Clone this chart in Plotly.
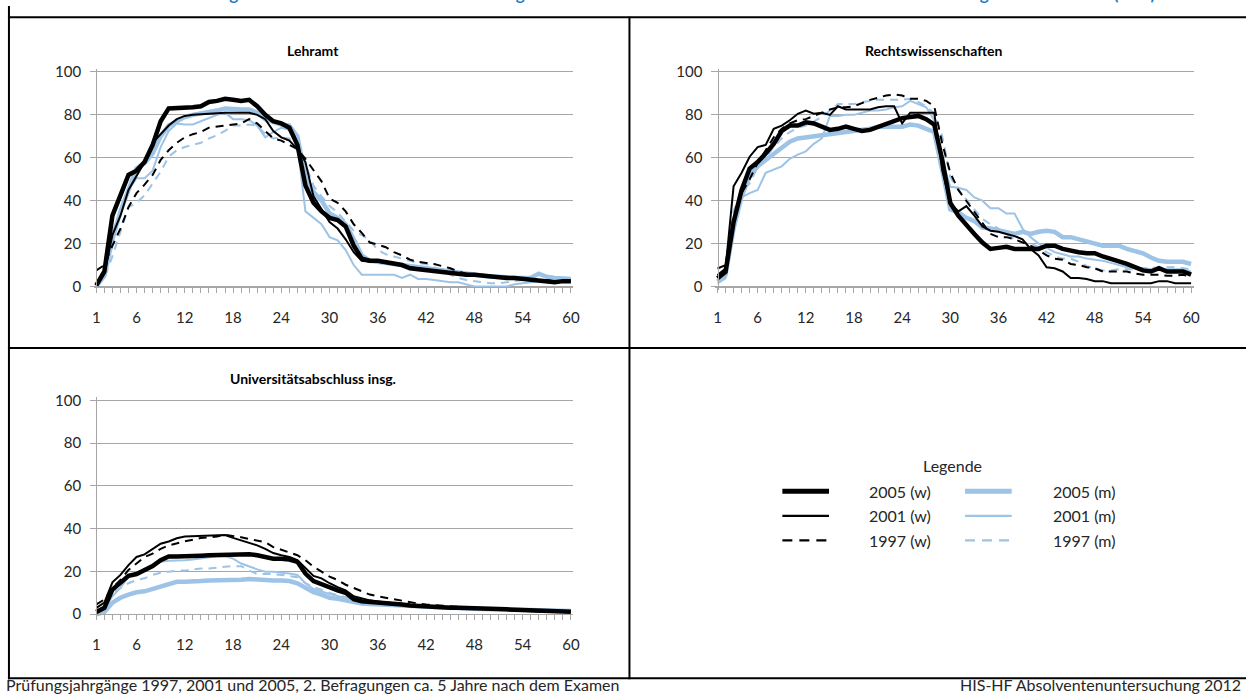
import plotly.graph_objects as go

W, H = 1253, 697
FONT = "Lato"
BLACK = "#000000"
BLUE = "#9DC3E6"
GRID = "#A6A6A6"
TXT = "#262626"

months = list(range(1, 61))
tick_vals = [1, 6, 12, 18, 24, 30, 36, 42, 48, 54, 60]
tick_labels = [str(v) for v in tick_vals]
y_ticks = [0, 20, 40, 60, 80, 100]

panel_titles = ["Lehramt", "Rechtswissenschaften", "Universitätsabschluss insg."]
series_names = ["2005 (w)", "2001 (w)", "1997 (w)", "2005 (m)", "2001 (m)", "1997 (m)"]

# ---- Lehramt ----
L_w05 = [0.5, 7, 33, 42, 52, 54, 58, 66, 77, 83, 83, 83.5, 83.5, 84, 86, 86.5, 87.5, 87, 86.5, 87,
         84, 80, 77, 76, 74, 66, 47, 39, 35, 32, 31, 28, 19, 13, 12, 12, 11.5, 11, 10, 8.5,
         8, 7.5, 7.5, 7, 6.5, 6, 5.5, 5.5, 5, 5, 4.5, 4, 4, 3.5, 3.5, 3, 2, 2, 2.5, 2.5]
L_w01 = [0.5, 6, 24, 33, 45, 51.5, 58, 67, 71, 75, 78, 79.5, 80, 80.3, 80.5, 80.8, 81, 81, 81, 81,
         80, 78, 72.5, 69.5, 68, 64, 58, 42, 36, 30, 27, 22, 16, 12, 11.5, 11.5, 11, 10.5, 10, 9,
         8.5, 8, 7.5, 7, 6.5, 6, 5.5, 5, 5, 4.5, 4.5, 4, 4, 3.5, 3.5, 3, 2.5, 2.5, 2.5, 2.5]
L_w97 = [7.5, 10, 19, 27, 37, 43.5, 47.5, 52, 59, 63.5, 67, 69.5, 71, 72, 74, 74.5, 75, 75.5, 76, 78,
         76, 72.5, 69, 68, 66, 64, 59.5, 54, 49, 41, 39, 35, 29, 25, 20.5, 19.5, 18.3, 16, 14.5, 12.5,
         11.5, 11, 10.5, 9.5, 8.5, 7, 6, 5.5, 5, 5, 4.5, 4.5, 4, 3.5, 3.5, 3, 3, 2.5, 2.5, 2.5]
L_m05 = [0, 5, 22, 35, 45, 55, 57.5, 62, 70, 75, 77, 79, 80, 80.5, 81, 82, 83, 82.5, 82.5, 82.5,
         81, 78, 76.5, 75.5, 75, 70, 51, 44, 40, 34, 32, 29, 22, 14.5, 12, 11.5, 11, 10.5, 10, 9,
         8.5, 8, 7.5, 7, 6.5, 6, 5.5, 5, 5, 4.5, 4.5, 4, 4, 4, 4, 6, 4.5, 4, 4, 3.5]
L_m01 = [0, 5, 25, 35, 45, 50.5, 50.5, 54, 65, 72.5, 76, 75.5, 75.5, 77, 78.5, 80, 81, 78, 78, 77.5,
         75, 69.5, 72, 74, 73, 66, 35, 32, 29, 23, 21.5, 17, 10, 5.5, 5.5, 5.5, 5.5, 5.5, 4, 5.5,
         3.5, 3.5, 3, 2.5, 2, 2, 1, 0, 0, 0, 0, 0, 1, 1.5, 2, 2.5, 2.5, 3, 3, 3]
L_m97 = [0, 4, 14, 25, 37, 39, 42.5, 48, 53.5, 60.5, 63.5, 65, 66, 67, 69, 70.5, 72.5, 75, 75, 75.5,
         75, 71, 69, 69.5, 69, 64, 57, 47, 42, 37.5, 34.5, 30, 26, 24, 21.5, 17, 15, 14, 13, 12,
         11, 10.5, 9, 7.5, 5.5, 4, 3, 2.5, 2, 1.5, 1.5, 2, 2.5, 3, 3, 3, 3, 3, 3, 3]

# ---- Rechtswissenschaften ----
R_w05 = [3.8, 6.9, 30, 45, 55, 58, 62, 66.5, 72.5, 75, 75, 76.5, 76, 74.5, 73, 73.5, 74.5, 73.5, 72.5, 73,
         74.5, 76, 77.5, 78.5, 79, 79.5, 78, 75.5, 59, 39, 33, 28.5, 24.5, 20.5, 17.5, 18, 18.5, 17.5, 17.5, 17.5,
         17.5, 19, 19, 17.5, 16.5, 16, 15.5, 15.5, 14, 13, 12, 10.5, 9, 7.5, 7, 8.5, 7, 7, 7, 5.5]
R_w01 = [5.4, 8.4, 46.7, 53, 60.5, 65, 66, 73.5, 75, 77.5, 80.5, 82, 80.5, 81, 80, 84, 82.5, 82.5, 82.5, 82.5,
         83.5, 84, 84, 76, 81, 81, 81, 81, 54, 39, 35, 37.5, 33, 28, 26, 25.5, 24.5, 23.5, 22, 17.5,
         14.5, 9, 8.5, 7, 4, 4, 3.5, 2.5, 2.5, 1.5, 1.5, 1.5, 1.5, 1.5, 1.5, 2.5, 2.5, 1.5, 1.5, 1.5]
R_w97 = [8.4, 10, 30, 43.5, 50, 57.5, 63.5, 69.5, 73.5, 76, 77.5, 78, 79.5, 81, 82.5, 83.5, 83.5, 84, 85.5, 87,
         88, 89, 89.5, 89, 87.5, 87.5, 86.5, 84, 66.5, 53, 45, 40, 35, 30, 24.5, 23, 23, 22, 20.5, 19,
         17, 14.5, 13, 12.5, 10.5, 10, 9, 8.5, 7, 7, 7, 7, 6, 5.5, 5.5, 5.5, 5, 5, 5.5, 4.5]
R_m05 = [2.3, 5.4, 27, 42, 51.5, 56, 59, 62, 65, 67.5, 69, 69.5, 69.5, 70.5, 71, 71, 72, 72.5, 72.5, 73.5,
         74.5, 74.5, 75, 74.5, 75.5, 75, 73.5, 72, 54, 36, 34.5, 32, 30.5, 27.5, 27, 26, 25.5, 24.5, 25.5, 24.5,
         25.5, 26, 25.5, 23, 23, 22, 21.5, 20, 19, 19, 19, 17.5, 16.5, 15.5, 13.5, 12, 11.5, 11.5, 11.5, 10.5]
R_m01 = [1.5, 3.8, 27, 41.5, 43.5, 45, 53, 54.5, 56, 59.5, 61.5, 63, 66.5, 69, 79.5, 79.5, 80, 80, 81, 82,
         82, 82.5, 83.5, 84, 86.5, 85, 83.5, 77.5, 59, 46.5, 46, 45, 41.5, 40, 36.5, 36.5, 34, 34, 27, 23,
         20, 18, 16, 15, 14, 14, 13, 12.5, 12, 11, 10, 9, 9, 8.5, 8, 8, 8, 8, 8, 7]
R_m97 = [3, 8, 35, 45, 48, 56, 60, 65, 69, 72, 74, 75, 77, 79, 82, 85, 85, 85, 86, 86.5,
         87, 87, 87, 87, 87.5, 86, 84, 80.5, 70, 51, 45, 40.5, 36, 31.5, 29, 27, 24.5, 22, 20.5, 20,
         18.5, 16, 14, 13, 13, 11.5, 9.5, 8.5, 7.5, 7.5, 8, 8, 8, 8.5, 8.5, 9, 9, 9, 8.5, 8]

# ---- Universitätsabschluss insg. ----
U_w05 = [1, 3, 11.5, 14.5, 18, 18.8, 20.4, 22.5, 25.3, 27, 27, 27, 27.3, 27.4, 27.6, 27.7, 28, 28, 27.9, 28,
         27.6, 26.8, 26, 25.9, 25.6, 24.5, 19, 15.5, 14, 12.3, 11.2, 10, 7, 6.1, 5.9, 5.7, 5.4, 5, 4.6, 4.1,
         3.8, 3.5, 3.3, 3, 3, 3, 3, 3, 2.8, 2.6, 2.5, 2.3, 2.2, 2, 1.8, 1.5, 1.4, 1.2, 1.2, 1.2]
U_w01 = [3, 5.4, 14.9, 18.4, 23, 26.8, 28, 30.6, 33, 34, 35.5, 36.3, 36.4, 36.6, 36.7, 36.7, 37, 35.7, 34.5, 33.2,
         32.2, 30.6, 28.6, 27.6, 26.8, 25.3, 21.4, 17.9, 16.8, 14.5, 12.7, 11.2, 8.4, 7.4, 6.5, 6, 5.5, 5, 4.5, 4,
         3.8, 3.5, 3.3, 3, 3, 3, 3, 2.8, 2.6, 2.3, 2.2, 2, 1.8, 1.6, 1.5, 1.3, 1.2, 1.2, 1.2, 1.2]
U_w97 = [4.6, 6.9, 12.3, 16, 20.7, 23.7, 26.8, 28.3, 30.6, 32.2, 33.2, 34.1, 34.8, 35.7, 36, 36.3, 37.2, 36.7, 36, 35.2,
         34.5, 33.7, 31.4, 30.2, 29.1, 27.6, 25.3, 22.2, 19.9, 17.6, 16, 13.8, 12.3, 10.7, 9.2, 8.4, 7.7, 6.9, 6.1, 5.4,
         5, 4.6, 4.3, 3.8, 3.5, 3.3, 3, 2.8, 2.6, 2.5, 2.3, 2.2, 2, 1.8, 1.7, 1.6, 1.5, 1.4, 1.3, 1.2]
U_m05 = [0, 1, 5.4, 7.7, 9.2, 10.3, 10.7, 11.8, 13.3, 14.2, 15.2, 15.2, 15.2, 15.5, 15.8, 15.8, 16.1, 16.1, 16.1, 16.5,
         16.1, 15.8, 15.8, 15.8, 15.5, 14.5, 12.3, 10.3, 9.2, 7.7, 7.2, 6.4, 5.4, 5, 4.8, 4.6, 4.4, 4.2, 4, 3.8,
         3.5, 3.3, 3.1, 3, 2.9, 2.8, 2.7, 2.6, 2.5, 2.4, 2.3, 2.2, 2.1, 2, 1.9, 1.8, 1.7, 1.6, 1.5, 1.5]
U_m01 = [0.5, 2.3, 8.4, 12.3, 17.6, 19.1, 20.7, 22.5, 24.5, 25, 25, 25.3, 25.6, 26, 26.5, 27.1, 27.1, 26, 23.7, 22.2,
         21, 19.9, 19.9, 19.4, 19.1, 18.4, 14.5, 11.8, 10.5, 9.5, 8.5, 7.5, 6, 5.5, 5.2, 5, 4.7, 4.5, 4.2, 4,
         3.7, 3.5, 3.3, 3.1, 3, 2.9, 2.8, 2.7, 2.6, 2.5, 2.4, 2.3, 2.2, 2.1, 2, 1.9, 1.8, 1.7, 1.6, 1.5]
U_m97 = [1.5, 3.5, 10, 12.3, 14.5, 16, 16.8, 18.4, 19.4, 19.9, 20.4, 20.4, 21, 21.4, 21.4, 21.9, 22.2, 22.5, 22.5, 20.4,
         18.8, 18.8, 18.8, 18.4, 17.9, 17.3, 14.5, 12.7, 11.5, 10, 9, 8, 7, 6, 5.5, 5, 4.7, 4.4, 4.1, 3.9,
         3.7, 3.5, 3.3, 3.1, 3, 2.9, 2.8, 2.7, 2.6, 2.5, 2.4, 2.3, 2.2, 2.1, 2, 1.9, 1.8, 1.7, 1.6, 1.5]

panels = [
    {"w05": L_w05, "w01": L_w01, "w97": L_w97, "m05": L_m05, "m01": L_m01, "m97": L_m97},
    {"w05": R_w05, "w01": R_w01, "w97": R_w97, "m05": R_m05, "m01": R_m01, "m97": R_m97},
    {"w05": U_w05, "w01": U_w01, "w97": U_w97, "m05": U_m05, "m01": U_m01, "m97": U_m97},
]

styles = {
    "w05": dict(color=BLACK, width=4.5, dash="solid"),
    "w01": dict(color=BLACK, width=2, dash="solid"),
    "w97": dict(color=BLACK, width=2, dash="8px,6px"),
    "m05": dict(color=BLUE, width=4.5, dash="solid"),
    "m01": dict(color=BLUE, width=2, dash="solid"),
    "m97": dict(color=BLUE, width=2, dash="8px,6px"),
}
draw_order = ["m97", "m01", "m05", "w97", "w01", "w05"]
key_names = dict(zip(["w05", "w01", "w97", "m05", "m01", "m97"], series_names))

def px(x):
    return x / W

def py(y):
    return 1 - y / H

# pixel geometry of plot areas: (x of month 1, x of month 60, y of 0, y of 100)
geo = [(95, 573, 285, 67), (720.7, 1197.7, 285, 67), (95, 573, 618, 400.7)]
XR = [0.7, 60.3]
YR = [-1.5, 101.5]

fig = go.Figure()
layout_axes = {}
for i, (pdata, g) in enumerate(zip(panels, geo)):
    n = "" if i == 0 else str(i + 1)
    x1, x60, y0, y100 = g
    sx = (x60 - x1) / 59.0
    sy = (y0 - y100) / 100.0
    dl = x1 - (1 - XR[0]) * sx
    dr = x60 + (XR[1] - 60) * sx
    db = y0 + (0 - YR[0]) * sy
    dt = y100 - (YR[1] - 100) * sy
    for k in draw_order:
        st = styles[k]
        fig.add_trace(go.Scatter(
            x=months, y=pdata[k], mode="lines", name=key_names[k], showlegend=False,
            line=dict(color=st["color"], width=st["width"], dash=st["dash"]),
            xaxis="x" + n, yaxis="y" + n, hoverinfo="skip"))
    layout_axes["xaxis" + n] = dict(
        domain=[px(dl), px(dr)], range=XR, anchor="free", position=py(y0),
        showgrid=False, zeroline=False, showline=True, linecolor=GRID, linewidth=1.3,
        tickmode="array", tickvals=months,
        ticktext=[str(m) if m in tick_vals else "" for m in months],
        ticks="outside", ticklen=5, tickwidth=1.3, tickcolor=GRID,
        ticklabelstandoff=12,
        tickfont=dict(family=FONT, size=15, color=TXT), fixedrange=True)
    layout_axes["yaxis" + n] = dict(
        domain=[py(db), py(dt)], range=YR, anchor="free", position=px(x1),
        showgrid=True, gridcolor=GRID, gridwidth=1.3, zeroline=False,
        showline=True, linecolor=GRID, linewidth=1.3,
        tickmode="array", tickvals=y_ticks,
        ticks="outside", ticklen=6, tickwidth=1.3, tickcolor=GRID,
        ticklabelstandoff=6,
        tickfont=dict(family=FONT, size=15, color=TXT), fixedrange=True)

annotations = []
title_pos = [(313, 45), (938, 45), (313, 378)]
for t, (tx, ty) in zip(panel_titles, title_pos):
    annotations.append(dict(text="<b>" + t + "</b>", x=px(tx), y=py(ty), xref="paper", yref="paper",
                            xanchor="center", yanchor="middle", showarrow=False,
                            font=dict(family=FONT, size=14, color=BLACK)))

# main title, cut off at the very top as in the source
annotations.append(dict(
    text="<b>Beschäftigte im Referendariat bzw. Vorbereitungsdienst nach Monaten seit dem Examen nach Studienrichtung und Geschlecht (in %)</b>",
    x=px(660), y=py(-13), xref="paper", yref="paper", xanchor="center", yanchor="middle",
    showarrow=False, font=dict(family=FONT, size=17, color="#1F7FC4")))

# footer
annotations.append(dict(text="Prüfungsjahrgänge 1997, 2001 und 2005, 2. Befragungen ca. 5 Jahre nach dem Examen",
                        x=px(2), y=py(689), xref="paper", yref="paper", xanchor="left", yanchor="middle",
                        showarrow=False, font=dict(family=FONT, size=16, color=TXT)))
annotations.append(dict(text="HIS-HF Absolventenuntersuchung 2012",
                        x=px(1250), y=py(689), xref="paper", yref="paper", xanchor="right", yanchor="middle",
                        showarrow=False, font=dict(family=FONT, size=16, color=TXT)))

# custom legend block
annotations.append(dict(text="Legende", x=px(957), y=py(467), xref="paper", yref="paper",
                        xanchor="center", yanchor="middle", showarrow=False,
                        font=dict(family=FONT, size=16, color=TXT)))
shapes = []
leg_rows = [493, 518, 543]
left_keys = ["w05", "w01", "w97"]
right_keys = ["m05", "m01", "m97"]
for ry, lk, rk in zip(leg_rows, left_keys, right_keys):
    for k, (sx0, sx1, lx) in ((lk, (786, 833, 871)), (rk, (970, 1017, 1057))):
        st = styles[k]
        shapes.append(dict(type="line", xref="paper", yref="paper", x0=px(sx0), x1=px(sx1),
                           y0=py(ry), y1=py(ry),
                           line=dict(color=st["color"], width=st["width"] + (0.5 if st["width"] > 3 else 0.3),
                                     dash="10px,7px" if st["dash"] != "solid" else "solid")))
        annotations.append(dict(text=key_names[k], x=px(lx), y=py(ry), xref="paper", yref="paper",
                                xanchor="left", yanchor="middle", showarrow=False,
                                font=dict(family=FONT, size=16, color=TXT)))

# table borders
def hline(y, xa, xb, w=2):
    shapes.append(dict(type="line", xref="paper", yref="paper", x0=px(xa), x1=px(xb), y0=py(y), y1=py(y),
                       line=dict(color=BLACK, width=w)))

def vline(x, ya, yb, w=2):
    shapes.append(dict(type="line", xref="paper", yref="paper", x0=px(x), x1=px(x), y0=py(ya), y1=py(yb),
                       line=dict(color=BLACK, width=w)))

hline(11.5, 6, 1253)
hline(347.5, 6, 1253)
hline(683, 6, 1253)
vline(7, 0, 684)
vline(632, 11, 684)

fig.update_layout(
    width=W, height=H, margin=dict(l=0, r=0, t=0, b=0),
    paper_bgcolor="white", plot_bgcolor="rgba(0,0,0,0)",
    showlegend=False, annotations=annotations, shapes=shapes,
    font=dict(family=FONT, color=TXT),
    **layout_axes)

fig.write_html("out.html")
